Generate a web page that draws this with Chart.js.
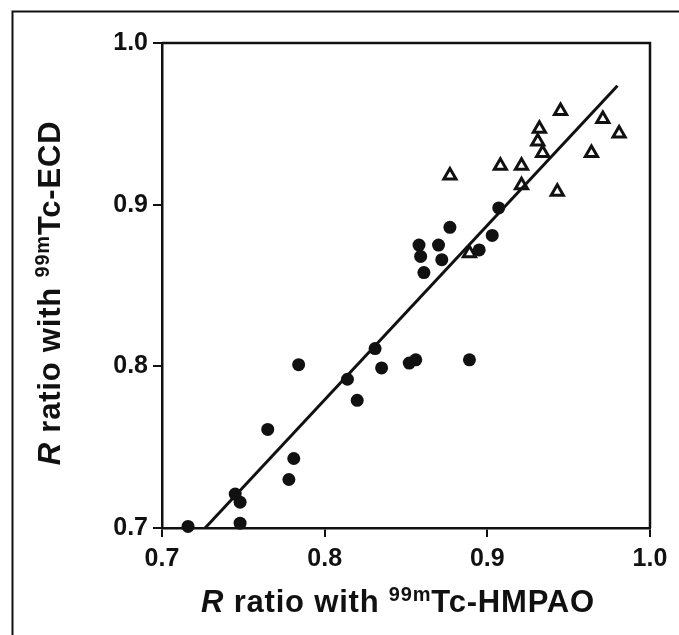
<!DOCTYPE html>
<html>
<head>
<meta charset="utf-8">
<script src="https://cdn.jsdelivr.net/npm/chart.js@4.4.1/dist/chart.umd.min.js"></script>
<style>
  html, body { margin: 0; padding: 0; background: #fff; }
  #wrap { width: 679px; height: 635px; position: relative; }
</style>
</head>
<body>
<div id="wrap"><canvas id="c"></canvas></div>
<script>
// ---- Data ----
const circleHMPAO = [0.907, 0.877, 0.903, 0.858, 0.870, 0.859, 0.872, 0.861, 0.895,
                     0.831, 0.784, 0.814, 0.835, 0.852, 0.856, 0.889, 0.820, 0.765,
                     0.781, 0.778, 0.745, 0.748, 0.748, 0.716];
const circleECD   = [0.898, 0.886, 0.881, 0.875, 0.875, 0.868, 0.866, 0.858, 0.872,
                     0.811, 0.801, 0.792, 0.799, 0.802, 0.804, 0.804, 0.779, 0.761,
                     0.743, 0.730, 0.721, 0.716, 0.703, 0.701];
const triHMPAO = [0.945, 0.971, 0.981, 0.932, 0.931, 0.934, 0.964, 0.908, 0.921,
                  0.877, 0.921, 0.943, 0.889];
const triECD   = [0.958, 0.953, 0.944, 0.947, 0.939, 0.932, 0.932, 0.924, 0.924,
                  0.918, 0.912, 0.908, 0.870];
const fitHMPAO = [0.7265, 0.980];
const fitECD   = [0.700, 0.9736];
const xTicks = [0.7, 0.8, 0.9, 1.0];
const yTicks = [0.7, 0.8, 0.9, 1.0];

const INK = '#111';
const FONT = '"Liberation Sans", Arial, Helvetica, sans-serif';

const zip = (xs, ys) => xs.map((x, i) => ({ x: x, y: ys[i] }));

const framePlugin = {
  id: 'frameAndTitles',
  afterDraw(chart) {
    const ctx = chart.ctx;
    const a = chart.chartArea;
    ctx.save();
    // outer frame (extends beyond right and bottom edges)
    ctx.strokeStyle = INK;
    ctx.lineWidth = 2;
    ctx.beginPath();
    ctx.moveTo(12.5, 640);
    ctx.lineTo(12.5, 11.5);
    ctx.lineTo(690, 11.5);
    ctx.stroke();
    // top and right box lines of plot
    ctx.lineWidth = 2.5;
    ctx.beginPath();
    ctx.moveTo(a.left, a.top);
    ctx.lineTo(a.right, a.top);
    ctx.lineTo(a.right, a.bottom);
    ctx.stroke();

    // axis titles with superscripts
    const LS = '0.8px';
    function drawTitle(parts, cx, cy, rotate) {
      ctx.save();
      ctx.letterSpacing = LS;
      let total = 0;
      parts.forEach(p => { ctx.font = p.font; total += ctx.measureText(p.t).width; });
      ctx.translate(cx, cy);
      if (rotate) ctx.rotate(-Math.PI / 2);
      ctx.fillStyle = INK;
      ctx.textBaseline = 'alphabetic';
      ctx.textAlign = 'left';
      let x = -total / 2;
      parts.forEach(p => {
        ctx.font = p.font;
        ctx.fillText(p.t, x, p.dy || 0);
        x += ctx.measureText(p.t).width;
      });
      ctx.restore();
    }
    const big = 'bold 31px ' + FONT;
    const bigI = 'italic bold 31px ' + FONT;
    const sup = 'bold 20px ' + FONT;
    drawTitle([
      { t: 'R', font: bigI },
      { t: ' ratio with ', font: big },
      { t: '99m', font: sup, dy: -11 },
      { t: 'Tc-HMPAO', font: big }
    ], 398, 612, false);
    drawTitle([
      { t: 'R', font: bigI },
      { t: ' ratio with ', font: big },
      { t: '99m', font: sup, dy: -11 },
      { t: 'Tc-ECD', font: big }
    ], 60, 293, true);
    ctx.restore();
  }
};

new Chart(document.getElementById('c'), {
  type: 'scatter',
  data: {
    datasets: [
      {
        type: 'line',
        data: zip(fitHMPAO, fitECD),
        borderColor: INK,
        borderWidth: 3,
        pointRadius: 0,
        fill: false,
        clip: false,
        order: 0
      },
      {
        data: zip(circleHMPAO, circleECD),
        pointStyle: 'circle',
        pointRadius: 6.5,
        backgroundColor: INK,
        borderColor: INK,
        borderWidth: 0,
        clip: false,
        order: 1
      },
      {
        data: zip(triHMPAO, triECD),
        pointStyle: 'triangle',
        pointRadius: 7,
        backgroundColor: '#fff',
        borderColor: INK,
        borderWidth: 3,
        clip: false,
        order: 2
      }
    ]
  },
  options: {
    responsive: true,
    maintainAspectRatio: false,
    animation: false,
    layout: { padding: { left: 0, top: 43, right: 29, bottom: 0 } },
    plugins: { legend: { display: false }, tooltip: { enabled: false } },
    scales: {
      x: {
        type: 'linear',
        min: 0.7, max: 1.0,
        afterBuildTicks: s => { s.ticks = xTicks.map(v => ({ value: v })); },
        afterFit: s => { s.height = 107; },
        ticks: {
          callback: v => Number(v).toFixed(1),
          font: { family: FONT, size: 25, weight: 'bold' },
          color: INK,
          padding: 7,
          maxRotation: 0
        },
        grid: { drawOnChartArea: false, drawTicks: true, tickLength: 9, color: INK, lineWidth: 2 },
        border: { display: true, color: INK, width: 2.5 }
      },
      y: {
        type: 'linear',
        min: 0.7, max: 1.0,
        afterBuildTicks: s => { s.ticks = yTicks.map(v => ({ value: v })); },
        afterFit: s => { s.width = 162; },
        ticks: {
          callback: v => Number(v).toFixed(1),
          font: { family: FONT, size: 25, weight: 'bold' },
          color: INK,
          padding: 5
        },
        grid: { drawOnChartArea: false, drawTicks: true, tickLength: 9, color: INK, lineWidth: 2 },
        border: { display: true, color: INK, width: 2.5 }
      }
    }
  },
  plugins: [framePlugin]
});
</script>
</body>
</html>
